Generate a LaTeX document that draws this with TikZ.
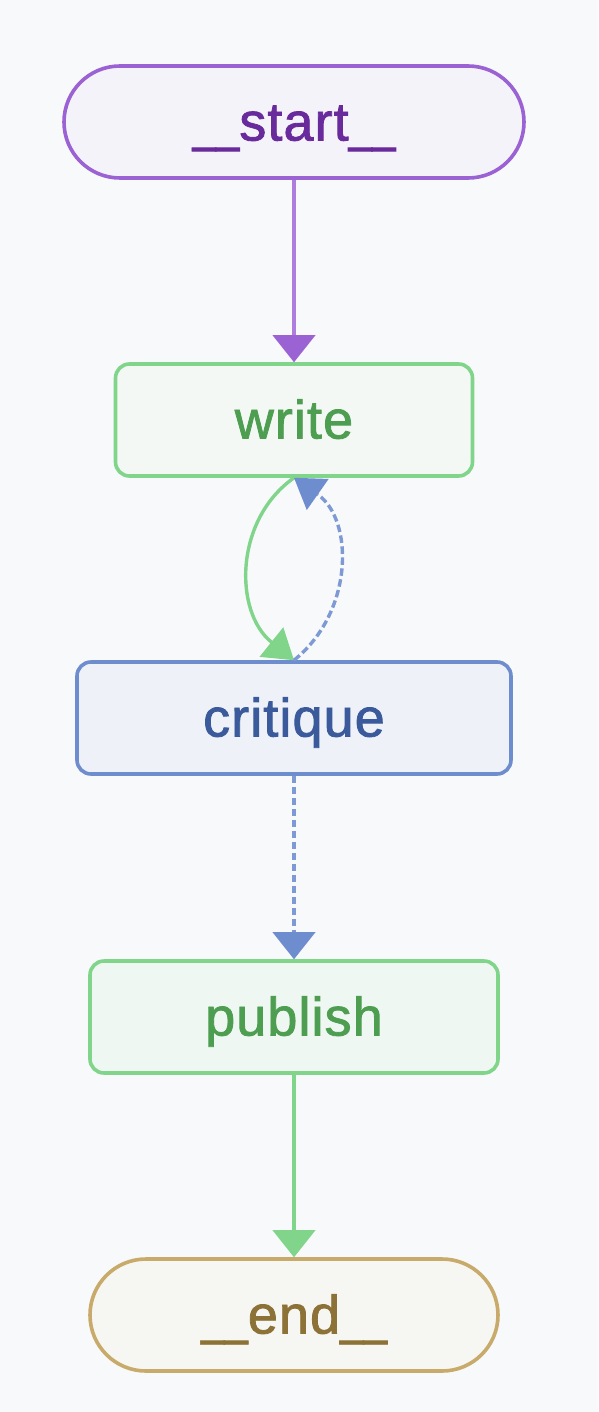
\documentclass[tikz,border=0pt]{standalone}
\usepackage{fontspec}
\setmainfont{Liberation Sans}
\newfontfamily\labelfont{Liberation Sans}[FakeBold=1.5,LetterSpace=2]
\usetikzlibrary{arrows.meta}
\definecolor{bgc}{HTML}{F8F9FB}
\definecolor{startdraw}{HTML}{9B62D4}
\definecolor{startfill}{HTML}{F5F3FA}
\definecolor{starttext}{HTML}{692A9B}
\definecolor{startline}{HTML}{AE7EDF}
\definecolor{gdraw}{HTML}{80D58A}
\definecolor{gfill}{HTML}{F3F8F5}
\definecolor{gfilltwo}{HTML}{EFF7F2}
\definecolor{gtext}{HTML}{4E9E52}
\definecolor{bdraw}{HTML}{6E8DCE}
\definecolor{bfill}{HTML}{EEF2F8}
\definecolor{btext}{HTML}{3A5A9B}
\definecolor{bline}{HTML}{7E9AD4}
\definecolor{edraw}{HTML}{C8AB6A}
\definecolor{efill}{HTML}{F6F6F3}
\definecolor{etext}{HTML}{8C7236}
\newcommand{\us}{\scalebox{0.78}[1]{\_}}
\tikzset{
  box/.style={draw, line width=3.6pt, rounded corners=14pt, inner sep=0pt,
    minimum height=112pt, text height=37pt, text depth=0pt,
    font=\labelfont\fontsize{54}{60}\selectfont},
  terminal/.style={box, rounded corners=56pt},
  conn/.style={line width=3.4pt},
  dashconn/.style={conn, dash pattern=on 7.5pt off 3.5pt}
}
\begin{document}
\begin{tikzpicture}[x=1pt,y=-1pt]
\fill[bgc] (0,0) rectangle (598,1412);
\useasboundingbox (0,0) rectangle (598,1412);
\node[terminal, draw=startdraw, fill=startfill, text=starttext, minimum width=460pt] (start) at (294,122) {\us\us start\us\us};
\node[box, draw=gdraw, fill=gfill, text=gtext, minimum width=357pt] (write) at (294,420) {write};
\node[box, draw=bdraw, fill=bfill, text=btext, minimum width=434pt] (critique) at (294,718) {critique};
\node[box, draw=gdraw, fill=gfilltwo, text=gtext, minimum width=408pt] (publish) at (294,1017) {publish};
\node[terminal, draw=edraw, fill=efill, text=etext, minimum width=408pt] (end) at (294,1315) {\us\us end\us\us};
\draw[conn, draw=startline, -{Triangle[length=27pt,width=43pt,fill=startdraw,line width=0pt]}] (start.south) -- (write.north);
\draw[conn, draw=gdraw, -{Triangle[length=29pt,width=38pt,line width=0pt]}] (write.south) .. controls (234,520) and (234,612) .. (critique.north);
\draw[dashconn, draw=bline, -{Triangle[length=29pt,width=38pt,fill=bdraw,line width=0pt]}] (critique.north) .. controls (354,612) and (354,520) .. (write.south);
\draw[dashconn, draw=bline, -{Triangle[length=27pt,width=43pt,fill=bdraw,line width=0pt]}] (critique.south) -- (publish.north);
\draw[conn, draw=gdraw, -{Triangle[length=27pt,width=43pt,line width=0pt]}] (publish.south) -- (end.north);
\end{tikzpicture}
\end{document}
